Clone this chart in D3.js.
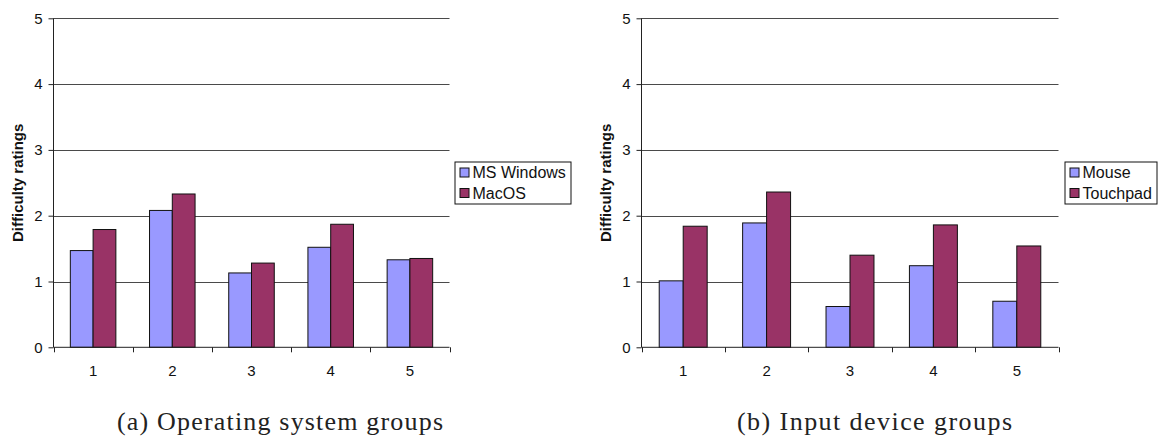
<!DOCTYPE html>
<html>
<head>
<meta charset="utf-8">
<script src="https://cdn.jsdelivr.net/npm/d3@7"></script>
<style>
  html, body { margin: 0; padding: 0; background: #fff; }
  svg { display: block; }
</style>
</head>
<body>
<svg id="chart" width="1160" height="436"></svg>
<script>
// ---- data ----
const categories = ["1", "2", "3", "4", "5"];
const yTicks = [0, 1, 2, 3, 4, 5];

const osSeries = ["MS Windows", "MacOS"];
const msWindows = [1.47, 2.08, 1.13, 1.52, 1.33];
const macOS     = [1.79, 2.33, 1.28, 1.87, 1.35];

const deviceSeries = ["Mouse", "Touchpad"];
const mouse    = [1.01, 1.89, 0.62, 1.24, 0.70];
const touchpad = [1.84, 2.36, 1.40, 1.86, 1.54];

const seriesColors = ["#9999FF", "#993366"];
const yTitle = "Difficulty ratings";
const captions = ["(a) Operating system groups", "(b) Input device groups"];

// ---- drawing ----
const svg = d3.select("#chart");
const SANS = "'Liberation Sans', Arial, sans-serif";
const SERIF = "'Liberation Serif', 'Times New Roman', serif";

function drawPanel(cfg) {
  const g = svg.append("g");
  const x0 = d3.scaleBand().domain(categories).range([cfg.left, cfg.right]).padding(0);
  const bw = x0.bandwidth();
  const x1 = d3.scaleBand().domain(cfg.series).range([bw * 0.2125, bw * 0.7875]).padding(0);
  const y = d3.scaleLinear().domain([0, 5]).range([cfg.bottom, cfg.top]);

  // gridlines
  g.append("g").selectAll("line").data(yTicks.filter(d => d > 0)).join("line")
    .attr("x1", cfg.left).attr("x2", cfg.right)
    .attr("y1", d => Math.round(y(d)) + 0.5).attr("y2", d => Math.round(y(d)) + 0.5)
    .attr("stroke", "#4a4a4a").attr("stroke-width", 1);

  // bars
  const values = cfg.values;
  const grp = g.append("g").selectAll("g").data(categories).join("g")
    .attr("transform", d => `translate(${x0(d)},0)`);
  grp.selectAll("rect").data((c, i) => cfg.series.map((s, k) => ({ s, k, v: values[k][i] })))
    .join("rect")
    .attr("x", d => x1(d.s))
    .attr("width", x1.bandwidth())
    .attr("y", d => y(d.v))
    .attr("height", d => y(0) - y(d.v))
    .attr("fill", d => seriesColors[d.k])
    .attr("stroke", "#111").attr("stroke-width", 1);

  // y axis
  const yAxis = d3.axisLeft(y).tickValues(yTicks).tickSize(5).tickPadding(6).tickFormat(d3.format("d"));
  const ya = g.append("g").attr("transform", `translate(${cfg.left},0)`).call(yAxis);
  ya.select(".domain").attr("stroke", "#222").attr("d", `M0,${cfg.top}V${cfg.bottom}`).attr("fill", "none");
  ya.selectAll(".tick line").attr("stroke", "#222");
  ya.selectAll("text").attr("font-family", SANS).attr("font-size", 15).attr("fill", "#111");

  // x axis: ticks at category boundaries, labels at centres
  const xa = g.append("g").attr("transform", `translate(0,${cfg.bottom})`);
  xa.append("line").attr("x1", cfg.left).attr("x2", cfg.right).attr("y1", 0).attr("y2", 0).attr("stroke", "#222");
  const bounds = categories.map(c => x0(c)).concat([x0(categories[categories.length - 1]) + bw]);
  xa.selectAll("line.b").data(bounds).join("line").attr("class", "b")
    .attr("x1", d => Math.round(d) + 0.5).attr("x2", d => Math.round(d) + 0.5)
    .attr("y1", 0).attr("y2", 5).attr("stroke", "#222");
  xa.selectAll("text").data(categories).join("text")
    .attr("x", d => x0(d) + bw / 2).attr("y", 29)
    .attr("text-anchor", "middle")
    .attr("font-family", SANS).attr("font-size", 15).attr("fill", "#111")
    .text(d => d);

  // y title
  g.append("text")
    .attr("transform", `translate(${cfg.left - 31},${(cfg.top + cfg.bottom) / 2}) rotate(-90)`)
    .attr("text-anchor", "middle")
    .attr("font-family", SANS).attr("font-size", 15).attr("font-weight", "bold")
    .attr("fill", "#111")
    .text(yTitle);

  // legend
  const lg = g.append("g").attr("transform", `translate(${cfg.legX},${cfg.legY})`);
  lg.append("rect").attr("x", 0.5).attr("y", 0.5).attr("width", cfg.legW).attr("height", 42)
    .attr("fill", "#fff").attr("stroke", "#111").attr("stroke-width", 1);
  cfg.series.forEach((s, k) => {
    lg.append("rect").attr("x", 5.5).attr("y", 6.5 + k * 20.5).attr("width", 9).attr("height", 9)
      .attr("fill", seriesColors[k]).attr("stroke", "#111").attr("stroke-width", 1);
    lg.append("text").attr("x", 18).attr("y", 16.5 + k * 20.5)
      .attr("font-family", SANS).attr("font-size", 16).attr("fill", "#111")
      .text(s);
  });

  // caption
  g.append("text").attr("x", cfg.capX).attr("y", 430).attr("text-anchor", "middle")
    .attr("font-family", SERIF).attr("font-size", 26)
    .attr("fill", "#222")
    .attr("textLength", cfg.capW).attr("lengthAdjust", "spacing")
    .text(cfg.caption);
}

drawPanel({ left: 53.5, right: 449.5, top: 18.3, bottom: 347.3, series: osSeries, values: [msWindows, macOS],
  legX: 454.5, legY: 161.5, legW: 116, caption: captions[0], capX: 280, capW: 326 });
drawPanel({ left: 641.5, right: 1058.5, top: 18.3, bottom: 347.3, series: deviceSeries, values: [mouse, touchpad],
  legX: 1064.5, legY: 161.5, legW: 92, caption: captions[1], capX: 874.5, capW: 275 });
</script>
</body>
</html>
